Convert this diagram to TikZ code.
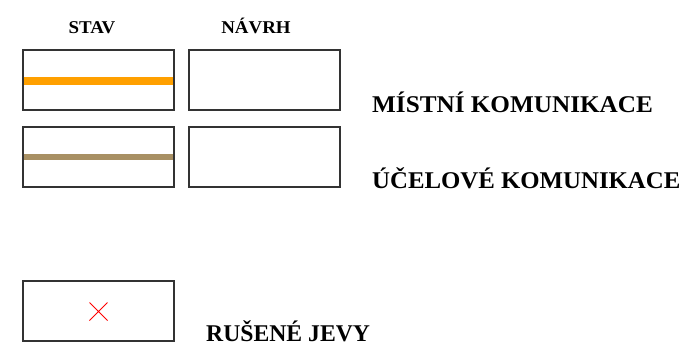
\documentclass[tikz,border=0pt]{standalone}
\usepackage{fontspec}
\setmainfont{Liberation Serif}[FakeStretch=1.05]
\begin{document}
\begin{tikzpicture}[x=1pt,y=-1pt,
  box/.style={draw=black!80,line width=1.2pt},
  head/.style={font=\bfseries\fontsize{18}{18}\selectfont,anchor=base},
  lab/.style={font=\bfseries\fontsize{24}{24}\selectfont,anchor=base west,inner sep=0pt}]
\useasboundingbox (0,0) rectangle (681,348);
\node[head] (stav) at (92,33) {STAV};
\node[head] (navrh) at (256,33) {NÁVRH};
\draw[box] (23,50) rectangle (174,110);
\draw[box] (189,50) rectangle (340,110);
\draw[box] (23,127) rectangle (174,187);
\draw[box] (189,127) rectangle (340,187);
\draw[box] (23,281) rectangle (174,341);
\draw[line width=8pt,color={rgb,255:red,255;green,160;blue,0}] (23.6,80.5) -- (173.4,80.5);
\draw[line width=6pt,color={rgb,255:red,168;green,144;blue,100}] (23.6,157) -- (173.4,157);
\draw[red,line width=1pt] (89.5,302.5) -- (107.5,320.5) (89.5,320.5) -- (107.5,302.5);
\node[lab] (mk) at (372,112) {MÍSTNÍ KOMUNIKACE};
\node[lab] (uk) at (372,188) {\scalebox{0.985}[1]{ÚČELOVÉ KOMUNIKACE}};
\node[lab] (rj) at (206,341) {\scalebox{0.94}[1]{RUŠENÉ JEVY}};
\end{tikzpicture}
\end{document}
